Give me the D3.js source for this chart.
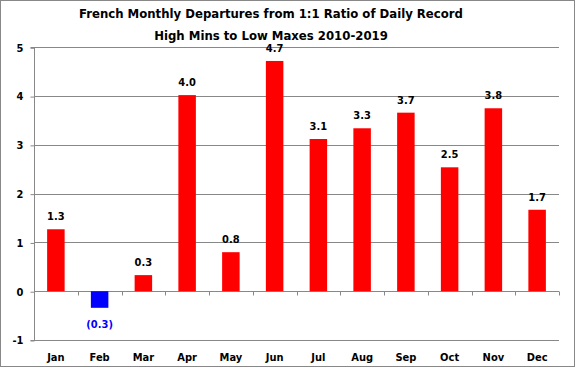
<!DOCTYPE html>
<html><head><meta charset="utf-8">
<script src="https://cdn.jsdelivr.net/npm/d3@7/dist/d3.min.js"></script>
<style>body{margin:0;background:#fff}svg{display:block}text{font-family:Tahoma,"DejaVu Sans Condensed","DejaVu Sans",sans-serif;font-weight:bold}</style>
</head><body><svg id="c" width="576" height="368"></svg>
<script>
const months = ["Jan","Feb","Mar","Apr","May","Jun","Jul","Aug","Sep","Oct","Nov","Dec"];
const values = [1.27,-0.34,0.33,4.02,0.80,4.72,3.12,3.34,3.66,2.54,3.75,1.67];
const yTicks = [-1,0,1,2,3,4,5];
const titleLines = ["French Monthly Departures from 1:1 Ratio of Daily Record","High Mins to Low Maxes 2010-2019"];

const svg = d3.select("#c");
const W=576,H=368;
svg.append("rect").attr("x",0.5).attr("y",0.5).attr("width",W-2).attr("height",H-2).attr("fill","#fff").attr("stroke","#888");
const L=34,R=559,T=47.3,B=340;
const x=d3.scaleBand().domain(months).range([L,R]).paddingInner(0.6).paddingOuter(0.3);
const xb=d3.scaleBand().domain(months).range([L,R]);
const y=d3.scaleLinear().domain([-1,5]).range([B,T]);

const g=svg.append("g");
g.selectAll(".grid").data(yTicks).join("line")
 .attr("x1",L).attr("x2",R).attr("y1",d=>Math.round(y(d))+0.5).attr("y2",d=>Math.round(y(d))+0.5)
 .attr("stroke","#888").attr("stroke-width",1);
const ya=d3.axisLeft(y).tickValues(yTicks).tickSize(4).tickFormat(d=>String(d));
const yg=svg.append("g").attr("transform",`translate(${L+0.5},0)`).call(ya);
yg.select(".domain").attr("stroke","#888").attr("d",`M-4,${Math.round(T)+0.5}H0V${Math.round(B)+0.5}H-4`);
yg.selectAll(".tick line").attr("stroke","#888").attr("transform","translate(0,0.5)");
yg.selectAll(".tick text").attr("font-size",11).attr("fill","#000").attr("x",-11).attr("dy","0.35em");
const y0=Math.round(y(0))+0.5;
const bounds=d3.range(0,13).map(i=>L+i*xb.step());
g.selectAll(".xt").data(bounds).join("line").attr("x1",d=>Math.round(d)+0.5).attr("x2",d=>Math.round(d)+0.5)
 .attr("y1",y0).attr("y2",y0+4).attr("stroke","#888");
g.selectAll(".bar").data(values).join("rect")
 .attr("x",(d,i)=>x(months[i])).attr("width",x.bandwidth())
 .attr("y",d=>y(Math.max(0,d))).attr("height",d=>Math.abs(y(d)-y(0)))
 .attr("fill",d=>d<0?"#0000ff":"#ff0000");
const fmt=d=>d<0?`(${d3.format(".1f")(-d)})`:d3.format(".1f")(d);
g.selectAll(".lbl").data(values).join("text")
 .attr("x",(d,i)=>x(months[i])+x.bandwidth()/2)
 .attr("y",d=>d<0?y(d)+20:y(d)-9)
 .attr("text-anchor","middle").attr("font-size",11)
 .attr("fill",d=>d<0?"#0000ff":"#000").text(fmt);
g.selectAll(".ml").data(months).join("text")
 .attr("x",d=>xb(d)+xb.bandwidth()/2).attr("y",361)
 .attr("text-anchor","middle").attr("font-size",11).attr("fill","#000").text(d=>d);
svg.selectAll(".title").data(titleLines).join("text")
 .attr("x",271).attr("y",(d,i)=>18+i*22).attr("text-anchor","middle").attr("font-size",13).attr("fill","#000").text(d=>d);
</script></body></html>
